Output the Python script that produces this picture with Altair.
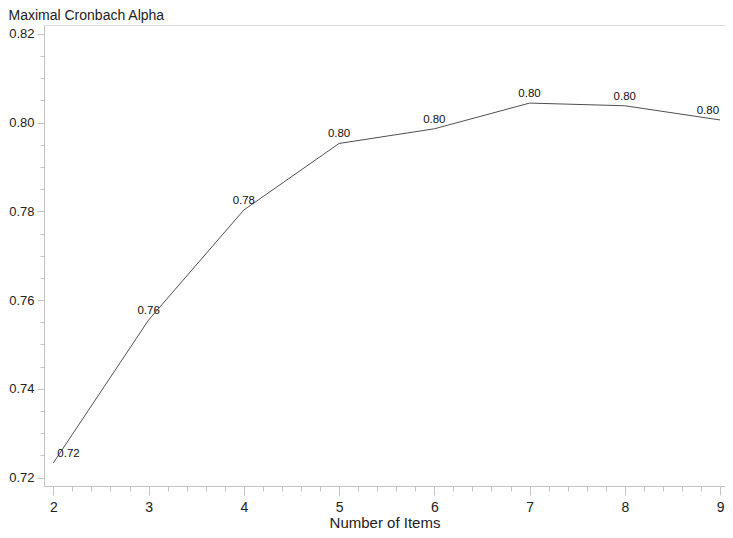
import altair as alt
import pandas as pd

items = [2, 3, 4, 5, 6, 7, 8, 9]
alpha = [0.7233, 0.7555, 0.7803, 0.7953, 0.7986, 0.8044, 0.8038, 0.8006]

df = pd.DataFrame({"items": items, "alpha": alpha})

FONT = "Liberation Sans"
GRAY = "#c4c4c4"
TXT = "#222222"

x_major = [2, 3, 4, 5, 6, 7, 8, 9]
x_minor = [round(2 + 0.2 * i, 1) for i in range(36)]
y_major = [0.72, 0.74, 0.76, 0.78, 0.80, 0.82]
y_minor = [round(0.72 + 0.005 * i, 3) for i in range(21)]

xs = alt.Scale(domain=[1.902, 9.052], nice=False, zero=False)
ys = alt.Scale(domain=[0.7181, 0.822], nice=False, zero=False)

base = alt.Chart(df)

line = base.mark_line(color="#505050", strokeWidth=1).encode(
    x=alt.X("items:Q", scale=xs, axis=alt.Axis(
        values=x_major, format="d", title="Number of Items",
        tickSize=9, tickColor=GRAY, domainColor=GRAY, grid=False,
        labelFont=FONT, labelFontSize=14, labelColor=TXT, labelPadding=5,
        titleFont=FONT, titleFontSize=15, titleFontWeight="normal", titleColor=TXT,
        titlePadding=1)),
    y=alt.Y("alpha:Q", scale=ys, axis=alt.Axis(
        values=y_major, format=".2f", title="Maximal Cronbach Alpha",
        tickSize=7, tickColor=GRAY, domainColor=GRAY, grid=False,
        labelFont=FONT, labelFontSize=13, labelColor=TXT, labelPadding=3,
        titleFont=FONT, titleFontSize=14, titleFontWeight="normal", titleColor=TXT,
        titleAngle=0, titleAlign="left", titleBaseline="alphabetic",
        titleX=-36, titleY=-6)),
)

minor = base.mark_line(opacity=0).encode(
    x=alt.X("items:Q", scale=xs, axis=alt.Axis(
        values=x_minor, orient="bottom", labels=False, title=None, domain=False,
        tickSize=5, tickColor=GRAY, grid=False)),
    y=alt.Y("alpha:Q", scale=ys, axis=alt.Axis(
        values=y_minor, orient="left", labels=False, title=None, domain=False,
        tickSize=4, tickColor=GRAY, grid=False)),
)

def labels(filt, align, dx):
    return base.transform_filter(filt).mark_text(
        font=FONT, fontSize=11.5, color="#111111", align=align,
        baseline="bottom", dx=dx, dy=-4).encode(
        x=alt.X("items:Q", scale=xs, axis=None),
        y=alt.Y("alpha:Q", scale=ys, axis=None),
        text=alt.Text("alpha:Q", format=".2f"))

lab_mid = labels("datum.items > 2 && datum.items < 9", "center", 0)
lab_first = labels("datum.items == 2", "left", 4)
lab_last = labels("datum.items == 9", "right", -1)

chart = alt.layer(line, minor, lab_mid, lab_first, lab_last).resolve_axis(
    x="independent", y="independent"
).properties(
    width=681, height=461,
    autosize=alt.AutoSizeParams(type="none"),
    padding={"left": 36, "top": 17, "right": 0, "bottom": 50},
).configure_view(stroke=GRAY, strokeWidth=1).configure(background="white")

chart.save("out.html", embed_options={"renderer": "svg", "actions": False})
